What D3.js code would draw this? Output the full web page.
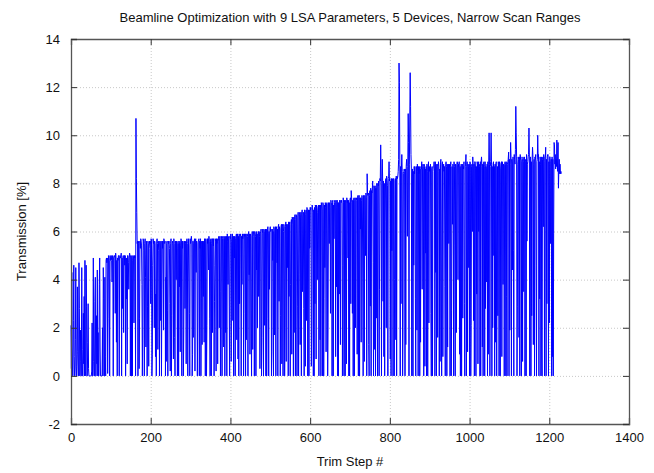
<!DOCTYPE html>
<html>
<head>
<meta charset="utf-8">
<script src="https://cdn.jsdelivr.net/npm/d3@7"></script>
<style>
  html, body { margin: 0; padding: 0; background: #fff; }
  svg { display: block; font-family: "Liberation Sans", Arial, sans-serif; }
</style>
</head>
<body>
<svg id="chart" width="654" height="473"></svg>
<script>
const title = "Beamline Optimization with 9 LSA Parameters, 5 Devices, Narrow Scan Ranges";
const xLabel = "Trim Step #";
const yLabel = "Transmission [%]";
const xTicks = [0, 200, 400, 600, 800, 1000, 1200, 1400];
const yTicks = [-2, 0, 2, 4, 6, 8, 10, 12, 14];
const xDomain = [0, 1400];
const yDomain = [-2, 14];

// Transmission [%] per trim step (step = index)
const transmission = [
2.1,0.3,4.3,1.2,0,0,2.3,4.6,0.8,0,
0,1.5,4.5,0.4,0,0.9,3.7,1.0,0,0,
4.7,2.8,0,0.6,1.9,0,0,4.5,1.1,0,
0,2.6,0.5,3.3,0,4.8,0.2,0,4.6,2.9,
0,0,1.4,3.0,0.3,0,0,0,0,0,
0,0,0.2,2.2,0,0,4.9,0.6,0,0,
3.1,4.1,0,0,2.5,0.5,4.4,0,1.8,0,
0,3.8,4.9,1.2,0,0,0,0,0,2.0,
0,4.5,3.2,0,0,4.1,0.8,0,4.8,4.9,
4.7,4.9,0.1,2.4,5.0,4.9,4.8,0,5.0,4.8,
4.9,5.0,4.8,3.9,5.0,4.9,0,4.9,5.0,5.0,
4.9,2.6,5.1,4.9,1.4,4.8,0,4.9,4.8,5.0,
5.0,0,4.9,5.0,4.9,4.9,5.1,0,4.9,2.8,
4.8,5.0,1.8,5.0,5.0,4.6,5.0,0,4.9,3.2,
4.9,0.5,5.0,5.0,4.7,3.6,4.9,5.1,5.0,0,
5.0,4.9,0,5.0,0,4.8,5.0,4.9,2.2,5.0,
4.9,5.0,0,10.7,8.2,6.8,5.5,5.6,0,5.5,
5.6,0.3,2.4,5.6,5.3,5.7,5.6,5.4,3.8,0,1.7,5.7,5.6,5.2,0,5.5,5.7,4.1,1.2,5.6,
5.4,0,2.9,5.6,5.5,0.4,5.3,5.6,5.5,5.6,3.0,5.7,5.6,0,0.9,4.6,5.7,5.5,5.6,2.0,
5.6,5.5,0.8,3.4,0,5.6,5.7,5.5,1.1,5.2,5.6,5.5,0,5.6,5.4,2.3,5.6,0,3.6,5.6,
5.3,5.6,1.9,5.7,5.6,5.5,5.6,0,4.1,0.6,5.5,5.6,2.7,0,5.6,5.5,5.6,5.3,3.0,0.2,
5.5,5.7,0,2.5,5.5,5.6,5.4,0.7,5.7,5.5,1.6,0,5.6,5.5,4.0,5.6,5.3,0,5.5,5.6,
0,5.5,3.7,5.6,1.0,5.4,5.7,5.6,0,5.6,5.3,5.6,0,1.9,5.5,5.6,2.8,5.5,5.6,0.5,
5.6,5.7,5.5,0,3.9,5.7,5.4,2.6,0,5.7,5.5,5.6,5.8,5.6,0,0.9,5.6,1.6,5.5,5.6,
5.7,0.2,5.6,5.7,4.3,5.6,5.5,0,2.2,5.6,5.6,5.7,0,5.6,5.3,5.7,0,3.2,5.6,1.3,
5.6,5.5,3.3,5.6,1.4,5.7,5.6,0,5.7,5.6,0,2.1,5.7,5.5,5.7,4.4,5.8,5.6,2.4,0,
5.6,5.7,0,5.5,5.7,1.8,5.7,5.4,5.7,0,3.1,4.6,5.7,5.6,0.2,5.7,5.5,5.7,0.5,5.6,
5.7,5.8,2.0,5.7,5.8,0,3.5,5.7,5.8,0,5.7,5.8,5.7,1.2,5.8,5.7,0,5.8,1.8,5.7,
5.8,0,5.9,5.6,3.8,5.7,5.8,2.9,0,5.8,5.7,5.9,0.6,5.6,5.8,5.9,2.3,5.8,0,5.8,
4.9,5.8,0,5.7,5.8,5.9,1.5,5.8,5.9,0.7,5.8,0,5.9,3.0,5.7,5.9,5.8,0,5.8,3.8,
5.9,5.7,5.9,0,2.6,5.9,5.8,5.9,0,5.9,1.5,5.8,5.9,5.8,0,5.9,6.0,4.2,5.9,0.9,
5.9,5.8,2.7,0,5.9,6.0,1.1,5.8,6.0,5.9,0,6.0,5.9,5.8,0,6.0,4.4,5.9,2.0,5.8,
6.0,3.3,6.0,5.8,0.3,5.9,6.0,6.1,0,1.6,5.9,6.1,6.0,0,6.1,6.0,2.1,6.0,6.1,0,
6.1,0,2.4,6.1,6.2,5.9,0,6.0,3.6,6.1,6.2,6.0,6.1,0,1.0,6.1,4.8,6.0,0,6.2,
5.9,1.7,6.1,6.2,0,6.1,6.2,4.7,6.1,0,6.2,6.3,3.1,6.2,6.1,0,2.5,6.2,6.3,0.5,
6.2,6.3,0,6.0,6.3,6.2,0,2.0,6.2,6.4,0.6,6.3,6.2,4.5,6.3,0,6.4,3.3,6.3,6.4,
0,3.8,6.3,6.5,0.9,6.6,6.5,6.3,0,6.6,1.8,6.5,6.7,0,6.5,6.7,6.6,0,2.9,6.6,
6.8,0,4.2,6.7,6.8,1.3,6.6,6.8,0,6.7,6.9,3.5,6.6,6.8,2.8,0,6.9,6.8,0.4,6.7,
6.9,2.3,7.0,6.9,0,6.8,6.9,0,6.9,5.3,7.0,6.9,7.0,0.4,1.9,7.1,7.0,6.8,0,6.9,
0,7.0,3.0,7.1,7.0,0.7,7.1,7.0,4.0,6.8,7.0,7.1,0,7.0,7.1,1.5,7.1,0,7.2,7.1,
6.9,0,7.2,7.1,0,3.2,7.1,4.5,7.2,7.0,1.0,7.1,7.2,7.1,0,2.2,7.2,7.1,5.5,7.2,
7.0,2.6,7.3,7.2,7.1,0,7.2,7.3,0,7.1,5.7,7.2,7.3,7.2,0.8,7.3,3.7,7.0,7.3,0,
7.2,0,7.2,3.4,7.3,7.2,1.3,7.3,7.2,7.3,7.2,0,4.6,7.4,7.2,0,7.3,1.7,0,7.3,
7.2,0.5,7.4,7.2,7.3,4.9,7.3,0,7.2,0,7.3,7.4,3.0,7.7,7.4,7.2,2.6,7.3,0,7.3,
7.4,0,7.3,7.4,2.0,7.3,7.4,7.3,0.9,7.4,7.5,0,7.4,7.5,0,7.4,6.1,7.4,1.4,7.3,
7.5,7.4,3.9,0,7.5,7.4,0.6,7.5,7.4,5.0,7.6,7.4,0,8.4,7.6,7.5,7.6,1.3,0,7.5,
7.7,2.9,7.8,0,7.7,7.6,7.8,8.1,4.7,0,7.9,7.8,1.1,7.9,0,7.8,2.4,8.0,7.9,0,
8.0,7.9,8.1,0,3.6,8.2,8.1,9.6,8.3,0,8.0,9.0,8.1,3.1,8.1,0.8,8.0,0,6.4,8.1,
8.2,2.0,8.3,8.1,7.9,0,8.2,8.3,8.9,8.1,8.2,0.7,8.1,0,8.2,5.2,8.2,8.1,0,8.2,
8.2,0,4.0,8.1,8.2,1.5,8.3,0,8.3,8.2,8.3,8.5,9.0,13.0,12.2,8.8,0,8.7,3.0,8.6,
9.2,8.5,0,2.0,8.4,8.5,8.6,8.5,0,8.6,1.3,8.7,9.0,8.6,5.8,8.7,10.9,9.7,0,8.8,
10.8,12.6,11.2,9.2,8.6,0,8.3,8.6,0,8.5,4.6,8.7,8.4,8.7,3.2,0,8.5,8.7,1.9,8.8,
8.5,0,8.7,8.4,8.7,0,8.6,1.4,8.7,8.6,8.9,3.6,8.6,8.8,8.7,0,8.8,8.7,0.4,8.6,
5.1,8.7,0,8.8,8.5,0,8.7,8.9,2.2,8.7,8.5,8.6,8.8,2.6,0,8.6,8.7,0,8.5,8.7,
8.7,8.9,8.6,0,8.9,4.3,8.8,0,8.7,8.8,1.6,8.5,8.9,8.7,0,8.6,0.6,8.8,9.0,3.9,
0,8.8,8.9,0.8,8.6,8.8,8.5,8.7,3.7,0,8.8,8.9,8.7,0,8.8,1.2,8.7,8.8,5.5,8.6,
8.8,0,8.7,8.9,0,2.7,8.7,6.3,8.8,8.7,0,8.9,8.7,5.4,0,8.8,8.6,1.8,8.8,8.9,
8.8,4.0,8.8,8.7,8.9,0.9,8.7,0,8.6,8.8,0,8.7,8.8,2.4,8.7,8.6,8.9,3.0,0,8.7,
8.8,9.2,0,8.7,8.9,1.0,8.8,8.7,4.5,8.8,0,8.9,8.8,0,2.1,8.7,8.8,6.0,9.1,8.7,
2.3,8.8,0,8.9,8.9,8.6,0,8.7,3.4,8.9,8.8,0.5,8.9,6.0,8.8,8.7,0,8.9,0,8.9,
9.1,8.7,1.2,8.8,0,8.8,8.9,8.7,0,8.9,2.8,8.7,8.6,3.9,8.8,0,8.9,0.9,8.8,10.1,
8.8,0,8.7,8.9,10.1,8.8,0,8.7,2.0,8.8,8.9,5.0,8.7,0,8.8,1.4,8.8,8.9,0,4.9,
8.7,2.5,8.9,8.6,0,8.9,8.8,0,8.6,8.8,8.9,0.8,8.9,8.8,3.8,8.8,8.7,0,8.8,8.9,
8.8,0,8.9,3.3,0,8.8,8.9,9.0,9.3,0,9.0,1.9,8.8,9.7,9.1,0,9.0,8.8,4.4,9.1,
5.2,0,9.2,9.0,8.8,9.4,11.2,10.1,9.1,0,2.9,8.8,9.1,9.0,1.6,9.1,0,9.2,9.0,9.1,
0,8.9,9.0,0.6,9.1,8.9,3.5,9.0,9.1,0,8.9,9.0,0,9.2,5.6,8.8,8.9,9.1,9.2,10.3,
9.3,0,9.0,9.1,0,8.9,2.5,9.0,9.5,9.1,1.3,8.8,9.0,0,9.1,9.0,9.2,4.6,0,8.9,
9.0,10.0,9.1,9.2,0,8.9,3.2,9.1,8.8,0,9.1,1.2,0,9.0,9.1,6.2,9.2,8.9,0,9.1,
9.1,9.5,0,9.0,3.0,9.1,9.2,9.2,0,8.9,2.2,9.1,9.1,5.5,8.9,9.0,0,9.1,0.8,9.0,
0,5.9,9.7,9.6,8.8,9.2,8.6,9.0,8.7,9.8,9.1,8.5,9.7,7.8,8.6,9.0,8.4,8.8,8.4,8.5,
8.4
];

const margin = { left: 71, right: 25, top: 39, bottom: 49 };
const W = 654, H = 473;
const svg = d3.select("#chart");

const x = d3.scaleLinear().domain(xDomain).range([margin.left, W - margin.right]);
const y = d3.scaleLinear().domain(yDomain).range([H - margin.bottom, margin.top]);
const fmt = d => String(d);

// grid
const grid = svg.append("g");
grid.selectAll("line.gx").data(xTicks.slice(1, -1)).join("line")
  .attr("x1", d => x(d) + 0.5).attr("x2", d => x(d) + 0.5)
  .attr("y1", y.range()[1]).attr("y2", y.range()[0])
  .attr("stroke", "#c8c8c8").attr("stroke-width", 1).attr("stroke-dasharray", "1,2");
grid.selectAll("line.gy").data(yTicks.slice(1, -1)).join("line")
  .attr("y1", d => y(d) + 0.5).attr("y2", d => y(d) + 0.5)
  .attr("x1", x.range()[0]).attr("x2", x.range()[1])
  .attr("stroke", "#c8c8c8").attr("stroke-width", 1).attr("stroke-dasharray", "1,2");

// data line
const pts = transmission.map((v, i) => [i, v]);
const line = d3.line().x(d => x(d[0])).y(d => y(d[1]));
svg.append("path").datum(pts)
  .attr("d", line).attr("fill", "none")
  .attr("stroke", "#0000ff").attr("stroke-width", 1);

// axes (inward ticks, mirrored)
const tickLen = 6;
const axB = svg.append("g").attr("transform", `translate(0,${y.range()[0]})`)
  .call(d3.axisBottom(x).tickValues(xTicks).tickSize(-tickLen).tickPadding(9).tickFormat(fmt));
const axT = svg.append("g").attr("transform", `translate(0,${y.range()[1]})`)
  .call(d3.axisTop(x).tickValues(xTicks).tickSize(-tickLen).tickFormat(""));
const axL = svg.append("g").attr("transform", `translate(${x.range()[0]},0)`)
  .call(d3.axisLeft(y).tickValues(yTicks).tickSize(-tickLen).tickPadding(11).tickFormat(fmt));
const axR = svg.append("g").attr("transform", `translate(${x.range()[1]},0)`)
  .call(d3.axisRight(y).tickValues(yTicks).tickSize(-tickLen).tickFormat(""));
[axB, axT, axL, axR].forEach(a => {
  a.select(".domain").attr("stroke", "#555").attr("stroke-width", 1.3);
  a.selectAll(".tick line").attr("stroke", "#333");
  a.selectAll(".tick text").attr("fill", "#111").style("font-size", "13px")
    .style("font-family", "'Liberation Sans', Arial, sans-serif");
});

// labels
svg.append("text").attr("x", (x.range()[0] + x.range()[1]) / 2).attr("y", 22)
  .attr("text-anchor", "middle").style("font-size", "13px").attr("fill", "#111").text(title);
svg.append("text").attr("x", (x.range()[0] + x.range()[1]) / 2).attr("y", 466)
  .attr("text-anchor", "middle").style("font-size", "13px").attr("fill", "#111").text(xLabel);
svg.append("text").attr("transform", `translate(26,${(y.range()[0] + y.range()[1]) / 2}) rotate(-90)`)
  .attr("text-anchor", "middle").style("font-size", "13px").attr("fill", "#111").text(yLabel);
</script>
</body>
</html>
